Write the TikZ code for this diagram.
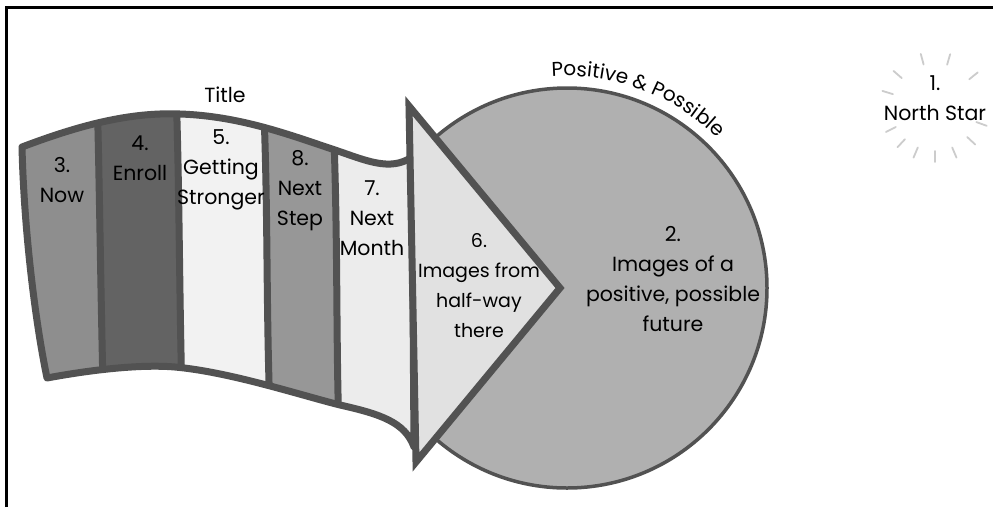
\documentclass[tikz,border=0pt]{standalone}
\usepackage{fontspec}
\setmainfont{Poppins}
\usetikzlibrary{decorations.text}
\definecolor{edge}{HTML}{525252}
\definecolor{sA}{HTML}{8E8E8E}
\definecolor{sB}{HTML}{636363}
\definecolor{sC}{HTML}{F2F2F2}
\definecolor{sD}{HTML}{979797}
\definecolor{sE}{HTML}{ECECEC}
\definecolor{headfill}{HTML}{E1E1E1}
\definecolor{pie}{HTML}{B0B0B0}
\definecolor{raycol}{HTML}{CCCCCC}
\tikzset{
  lbl/.style={align=center, font=\fontsize{20.5}{30}\selectfont, inner sep=0pt, text=black},
  divline/.style={draw=edge, line width=7pt},
  ray/.style={draw=raycol, line width=1.8pt, line cap=round},
}
\def\bannerpath{(22,147) .. controls (80,125) and (130,112) .. (180,114) .. controls (240,116) and (290,135) .. (335,150) .. controls (365,160) and (390,172) .. (412,157) -- (414,447) .. controls (405,422) and (380,414) .. (340,405) .. controls (300,395) and (230,372) .. (175,367) .. controls (140,364) and (90,370) .. (47,378) .. controls (35,320) and (24,230) .. (22,147) -- cycle}
\begin{document}
\begin{tikzpicture}[x=1pt,y=-1pt]
\useasboundingbox (0,0) rectangle (993,507);
\fill[white] (0,0) rectangle (993,507);
% frame (top and left sides only)
\draw[line width=3pt, black] (6,507) -- (6,7) -- (993,7);
% positive & possible disc
\draw[draw=edge, fill=pie, line width=3.5pt] (567,288) circle[radius=200];
\path[decorate, decoration={text along path, text align=center,
  text={|\fontsize{20}{20}\selectfont|Positive {\&} Possible}}]
  ([shift={(567,288)}]-102:212) arc[start angle=-102, end angle=-37, radius=212];
% banner stripes
\begin{scope}
\clip \bannerpath;
\fill[sE] (0,60) rectangle (430,480);
\fill[sD] (0,60) -- (332,60) -- (332,90) .. controls (339,240) and (335,340) .. (340,460) -- (340,480) -- (0,480) -- cycle;
\fill[sC] (0,60) -- (263,60) -- (263,90) .. controls (269,220) and (265,320) .. (272,460) -- (272,480) -- (0,480) -- cycle;
\fill[sB] (0,60) -- (176,60) -- (176,90) .. controls (180,200) and (179,330) .. (184,460) -- (184,480) -- (0,480) -- cycle;
\fill[sA] (0,60) -- (97,60) -- (97,90) .. controls (100,200) and (101,330) .. (105,460) -- (105,480) -- (0,480) -- cycle;
\draw[divline] (97,90) .. controls (100,200) and (101,330) .. (105,460);
\draw[divline] (176,90) .. controls (180,200) and (179,330) .. (184,460);
\draw[divline] (263,90) .. controls (269,220) and (265,320) .. (272,460);
\draw[divline] (332,90) .. controls (339,240) and (335,340) .. (340,460);
\end{scope}
\draw[draw=edge, line width=7pt, line join=round] \bannerpath;
% arrow head
\draw[draw=edge, fill=headfill, line width=7pt, line join=miter] (409,106) -- (560,288) -- (416,462) -- cycle;
% labels
\node[lbl] (title) at (225,95) {Title};
\node[lbl] (now) at (62,180) {3.\\Now};
\node[lbl] (enroll) at (140,158) {4.\\Enroll};
\node[lbl] (stronger) at (221,170) {5.\\Getting\\Stronger};
\node[lbl] (step) at (300,191) {8.\\Next\\Step};
\node[lbl] (month) at (372,218) {7.\\Next\\Month};
\node[lbl, font=\fontsize{19}{30}\selectfont] (half) at (479,286) {6.\\Images from\\half-way\\there};
\node[lbl] (future) at (673,279) {2.\\Images of a\\positive, possible\\future};
\node[lbl] (north) at (935,98) {1.\\North Star};
% north star rays
\foreach \a in {-105,-74,-139,-163,-39,153,133,113,90,67,43,20}
  \draw[ray] ([shift={(935,107)}]\a:44) -- ([shift={(935,107)}]\a:55);
\end{tikzpicture}
\end{document}
